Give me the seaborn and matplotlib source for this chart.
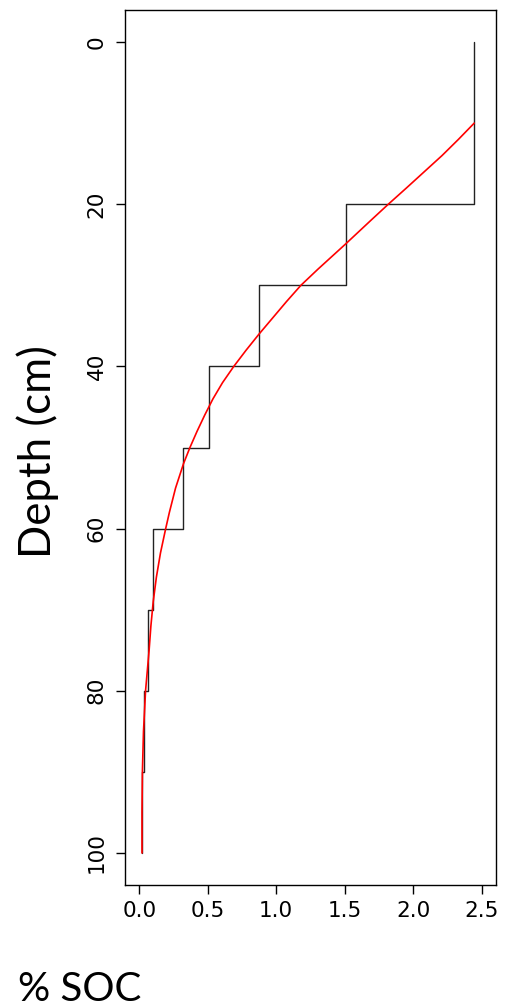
import matplotlib
matplotlib.use("Agg")
import matplotlib.pyplot as plt
import seaborn as sns
import pandas as pd

# ---- data ----
layer_top = [0, 20, 30, 40, 50, 60, 70, 80, 90]
layer_bottom = [20, 30, 40, 50, 60, 70, 80, 90, 100]
layer_soc = [2.44, 1.51, 0.874, 0.509, 0.319, 0.102, 0.066, 0.032, 0.02]

fit_depth = [10, 12, 14, 16, 18, 20, 22, 25, 28, 30, 32, 34, 36, 38, 40, 42, 44, 46, 48, 50,
             52, 55, 58, 60, 63, 66, 69, 72, 75, 80, 85, 90, 95, 100]
fit_soc = [2.445, 2.33, 2.21, 2.08, 1.95, 1.818, 1.69, 1.50, 1.305, 1.18, 1.075, 0.975, 0.875,
           0.78, 0.69, 0.608, 0.538, 0.478, 0.422, 0.37, 0.323, 0.265, 0.22, 0.193, 0.155,
           0.125, 0.102, 0.085, 0.072, 0.046, 0.031, 0.023, 0.020, 0.020]

x_ticks = [0.0, 0.5, 1.0, 1.5, 2.0, 2.5]
y_ticks = [0, 20, 40, 60, 80, 100]

sns.set_theme(style="white")
plt.rcParams['font.family'] = ['DejaVu Sans']

fig = plt.figure(figsize=(5.10, 10.08), dpi=100)
ax = fig.add_axes([125/510, 1 - 885/1008, (496-125)/510, (885-10)/1008])

# step profile
step_df = pd.DataFrame({
    "soc": [layer_soc[0]] + layer_soc,
    "depth": [layer_top[0]] + layer_bottom,
})
sns.lineplot(data=step_df, x="soc", y="depth", sort=False, estimator=None,
             drawstyle="steps-post", color="#222222", lw=1.0, ax=ax)

fit_df = pd.DataFrame({"soc": fit_soc, "depth": fit_depth})
sns.lineplot(data=fit_df, x="soc", y="depth", sort=False, estimator=None,
             color="#FF0000", lw=1.2, ax=ax)

ax.set_xlim(-0.104, 2.604)
ax.set_ylim(103.95, -3.95)
ax.set_xticks(x_ticks)
ax.set_xticklabels([f"{v:.1f}" for v in x_ticks])
ax.set_yticks(y_ticks)
ax.set_yticklabels([str(v) for v in y_ticks], rotation=90, va="center")
ax.set_xlabel("")
ax.set_ylabel("")
ax.tick_params(axis="both", direction="out", length=6.2, width=1.0, color="black",
               labelsize=15.5, labelcolor="black", bottom=True, left=True)
ax.tick_params(axis="x", pad=5.5)
ax.tick_params(axis="y", pad=7)
for s in ax.spines.values():
    s.set_visible(True)
    s.set_color("black")
    s.set_linewidth(1.0)
ax.grid(False)

fig.text(38/510, 1 - 452/1008, "Depth (cm)", rotation=90, ha="center", va="center",
         fontsize=31.5, family=["Lato", "DejaVu Sans"], color="black")
fig.text(18/510, 1 - 1001/1008, "% SOC", ha="left", va="baseline",
         fontsize=29, family=["Lato", "DejaVu Sans"], color="black")

fig.savefig("out.png", dpi=100, facecolor="white")
